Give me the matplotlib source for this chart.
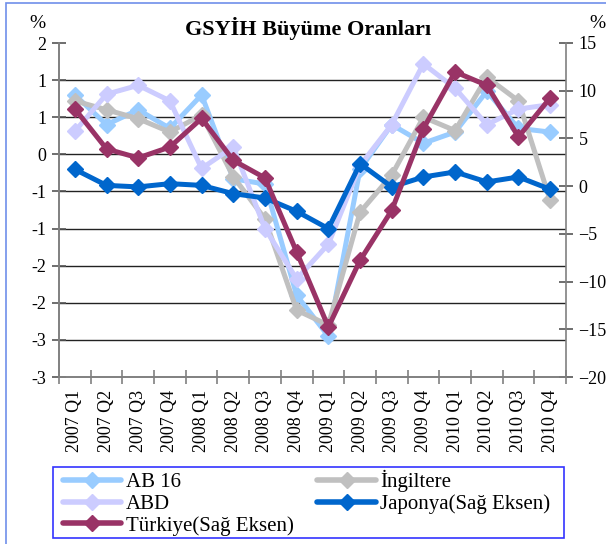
import matplotlib
matplotlib.use("Agg")
import matplotlib.pyplot as plt
from matplotlib.lines import Line2D
from matplotlib.patches import Rectangle

plt.rcParams['font.family'] = ['Liberation Serif', 'DejaVu Serif']

quarters = ["2007 Q1", "2007 Q2", "2007 Q3", "2007 Q4",
            "2008 Q1", "2008 Q2", "2008 Q3", "2008 Q4",
            "2009 Q1", "2009 Q2", "2009 Q3", "2009 Q4",
            "2010 Q1", "2010 Q2", "2010 Q3", "2010 Q4"]

# left axis (%)
ab16 = [0.8, 0.4, 0.6, 0.35, 0.8, -0.33, -0.4, -1.9, -2.45, -0.2, 0.4, 0.15, 0.3, 0.85, 0.35, 0.3]
ingiltere = [0.72, 0.6, 0.48, 0.3, 0.53, -0.3, -0.87, -2.1, -2.3, -0.78, -0.28, 0.5, 0.32, 1.04, 0.72, -0.62]
abd = [0.31, 0.81, 0.93, 0.72, -0.19, 0.1, -1.0, -1.68, -1.21, -0.15, 0.4, 1.22, 0.89, 0.4, 0.61, 0.67]
# right axis (%)
japonya = [1.76, 0.08, -0.08, 0.26, 0.08, -0.79, -1.24, -2.64, -4.45, 2.36, -0.08, 0.96, 1.49, 0.44, 0.96, -0.33]
turkiye = [8.1, 3.9, 2.96, 4.1, 7.1, 2.7, 0.86, -6.9, -14.76, -7.78, -2.54, 6.03, 11.97, 10.57, 5.16, 9.25]

left_ticks = [1.5, 1.0, 0.5, 0, -0.5, -1.0, -1.5, -2.0, -2.5, -3.0]
left_labels = ["2", "1", "1", "0", "-1", "-1", "-2", "-2", "-3", "-3"]
right_ticks = [15, 10, 5, 0, -5, -10, -15, -20]

c_ab = "#99CCFF"
c_ing = "#C0C0C0"
c_abd = "#CCCCFF"
c_jap = "#0066CC"
c_tur = "#993366"

fig = plt.figure(figsize=(6.06, 5.44), dpi=100)
ax = fig.add_axes([59/606, 1 - 377/544, 507/606, 334/544])
ax2 = ax.twinx()

x = list(range(len(quarters)))
st = dict(lw=3.6, marker='D', ms=8.5, solid_joinstyle='miter')
ax.plot(x, ab16, color=c_ab, **st, zorder=3)
ax.plot(x, ingiltere, color=c_ing, **st, zorder=4)
ax.plot(x, abd, color=c_abd, **st, zorder=5)
ax2.plot(x, japonya, color=c_jap, **st, zorder=3)
ax2.plot(x, turkiye, color=c_tur, **st, zorder=4)

ax.set_xlim(-0.5, len(quarters) - 0.5)
ax.set_ylim(-3, 1.5)
ax2.set_ylim(-20, 15)

for g in left_ticks[1:-1]:
    ax.axhline(g, color='#222222', lw=1, zorder=1)

ax.set_yticks(left_ticks)
ax.set_yticklabels(left_labels)
ax2.set_yticks(right_ticks)
ax.set_xticks(x)
ax.set_xticklabels(quarters, rotation=90)
ax.set_xticks([i - 0.5 for i in range(len(quarters) + 1)], minor=True)
ax.tick_params(axis='x', which='major', length=0, pad=9, labelsize=13)
ax.tick_params(axis='x', which='minor', direction='inout', length=10, color='#808080', width=1.2)
ax.tick_params(axis='y', direction='inout', length=10, color='#555555', width=1.2, labelsize=13, pad=4)
ax2.tick_params(axis='y', direction='inout', length=10, color='#555555', width=1.2, labelsize=13, pad=4)

for a in (ax, ax2):
    a.spines['top'].set_visible(False)
    for s in ('left', 'right', 'bottom'):
        a.spines[s].set_color('#808080')
        a.spines[s].set_linewidth(1.2)
ax.spines['right'].set_visible(False)

fig.text(308/606, 1 - 28/544, "GSYİH Büyüme Oranları", ha='center', va='center',
         fontsize=16, fontweight='bold')
fig.text(37/606, 1 - 24/544, "%", ha='center', va='center', fontsize=14)
fig.text(597/606, 1 - 24/544, "%", ha='center', va='center', fontsize=14)

# outer chart frame
fig.patches.append(Rectangle((6/606, -0.05), 1.2, 1 - 3/544 + 0.05, transform=fig.transFigure,
                             fill=False, edgecolor='#6F8FEA', lw=1.2))
# legend frame
fig.patches.append(Rectangle((53/606, 1 - 538/544), 511/606, 71/544, transform=fig.transFigure,
                             fill=False, edgecolor='#3333FF', lw=1.2))

def h(c):
    return Line2D([], [], color=c, lw=4, marker='D', ms=8, solid_capstyle='round')

handles = [h(c_ab), h(c_abd), h(c_tur), h(c_ing), h(c_jap)]
labels = ["AB 16", "ABD", "Türkiye(Sağ Eksen)", "İngiltere", "Japonya(Sağ Eksen)"]
leg = fig.legend(handles, labels, ncol=2, loc='upper left',
                 bbox_to_anchor=(63/606, 1 - 470/544),
                 prop={'size': 15}, frameon=False, handlelength=2.8,
                 handletextpad=0.2, labelspacing=0.1, borderpad=0,
                 borderaxespad=0, columnspacing=1.15, numpoints=1)

fig.savefig("out.png", dpi=100)
